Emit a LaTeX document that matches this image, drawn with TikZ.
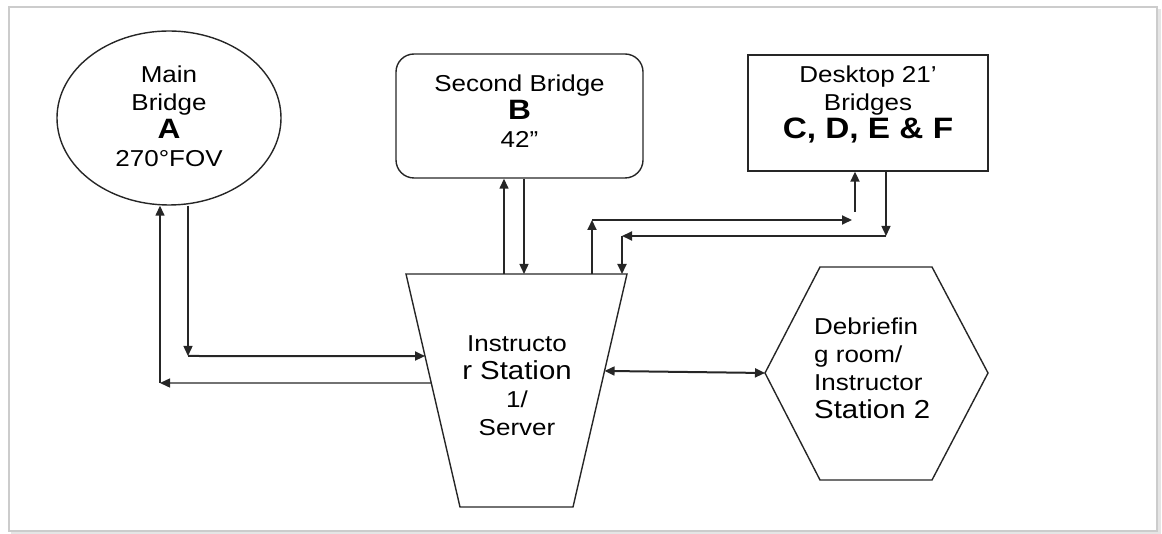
\documentclass[tikz,border=0pt]{standalone}
\usepackage{fontspec}
\setmainfont[FakeStretch=1.13]{Liberation Sans}
\usetikzlibrary{arrows.meta,shapes.geometric,calc}
\colorlet{lcol}{black!85}
\newcommand{\nsz}{\fontsize{23}{28}\selectfont}
\newcommand{\lsz}{\fontsize{26}{30}\selectfont}
\newcommand{\bsz}{\fontsize{28}{28}\selectfont\bfseries}
\tikzstyle{unit}=[draw=lcol, line width=1.4pt, inner sep=0pt]
\tikzstyle{txt}=[align=center, inner sep=0pt, font=\nsz]
\tikzstyle{link}=[draw=lcol, line width=1.4pt, -{Triangle[length=10pt,width=9pt]}]
\tikzstyle{linkb}=[link, line width=2pt]

\begin{document}
\begin{tikzpicture}[x=1pt, y=-1pt]
	\useasboundingbox (0,0) rectangle (1162,534);
	% frame
	\draw[gray!40, line width=1.2pt] (9,7) rectangle (1157,531);
	\draw[gray!20, line width=2.5pt] (11,533) -- (1159.5,533) -- (1159.5,9);

	% units
	\node[unit, ellipse, minimum width=224pt, minimum height=174pt] (A) at (169,118) {};
	\node[unit, rectangle, rounded corners=18pt, minimum width=247pt, minimum height=124pt] (B) at (519.5,116) {};
	\node[unit, rectangle, minimum width=240pt, minimum height=116pt] (D) at (868,113) {};

	\coordinate (s1) at (406,274);
	\coordinate (s2) at (627,274);
	\coordinate (s3) at (573,507);
	\coordinate (s4) at (460,507);
	\draw[unit] (s1) -- (s2) -- (s3) -- (s4) -- cycle;

	\coordinate (h1) at (820,267);
	\coordinate (h2) at (932,267);
	\coordinate (h3) at (988,373);
	\coordinate (h4) at (932,480);
	\coordinate (h5) at (820,480);
	\coordinate (h6) at (765,373);
	\draw[unit] (h1) -- (h2) -- (h3) -- (h4) -- (h5) -- (h6) -- cycle;

	% texts
	\node[txt] (Atxt) at (169,116) {Main\\Bridge\\{\bsz A}\\270°FOV};
	\node[txt] (Btxt) at (519.5,111) {Second Bridge\\{\bsz B}\\42”};
	\node[txt] (Dtxt) at (868,104) {Desktop 21’\\Bridges\\{\bsz\fontsize{29.5}{28}\selectfont C, D, E \& F}};
	\node[txt] (Stxt) at (517,386) {Instructo\\\lsz r Station\\1/\\Server};
	\node[txt, align=left, anchor=west] (Htxt) at (814,368) {Debriefin\\g room/\\Instructor\\\lsz Station 2};

	% main bridge
	\coordinate (c1) at (160,383);
	\coordinate (c2) at (188,356);
	\coordinate (sL1) at ($(s1)!0.352!(s4)$);
	\coordinate (sL2) at ($(s1)!0.468!(s4)$);
	\draw[link] (sL2) -- (c1);
	\draw[link] (c1) -- (c1 |- A.south);
	\draw[link] (c2 |- A.south) -- (c2);
	\draw[linkb] (c2) -- (sL1);

	% second bridge
	\coordinate (bUp) at (504,274);
	\coordinate (bDn) at (524,274);
	\draw[link] (bUp) -- (bUp |- B.south);
	\draw[link] (bDn |- B.south) -- (bDn);

	% desktop bridges
	\coordinate (dUp) at (592,274);
	\coordinate (dUpK) at (592,220);
	\coordinate (dUpE) at (852,220);
	\coordinate (dUpS) at (855,212);
	\draw[linkb] (dUp) -- (dUpK);
	\draw[linkb] (dUpK) -- (dUpE);
	\draw[linkb] (dUpS) -- (dUpS |- D.south);
	\coordinate (dDnK) at (886,236);
	\coordinate (dDnL) at (622,236);
	\coordinate (dDn) at (622,274);
	\draw[link] (dDnK |- D.south) -- (dDnK);
	\draw[linkb] (dDnK) -- (dDnL);
	\draw[linkb] (dDnL) -- (dDn);

	% debriefing room
	\coordinate (sR) at ($(s2)!0.416!(s3)$);
	\draw[linkb, {Triangle[length=10pt,width=9pt]}-{Triangle[length=10pt,width=9pt]}] (sR) -- (h6);
\end{tikzpicture}
\end{document}
